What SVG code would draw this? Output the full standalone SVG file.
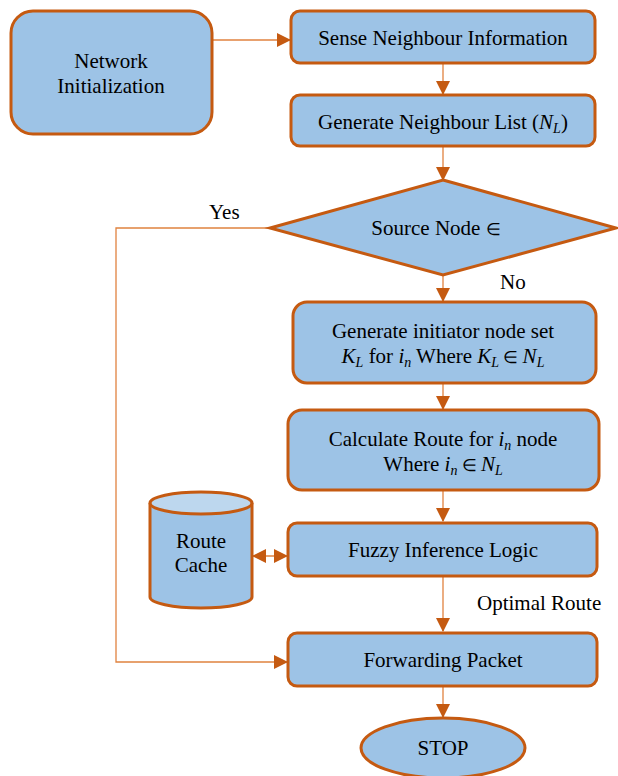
<svg xmlns="http://www.w3.org/2000/svg" width="618" height="776" viewBox="0 0 618 776">
<style>
.n{fill:#9DC3E6;stroke:#C55A11;stroke-width:3}
text{font-family:'Liberation Serif','Times New Roman',serif;font-size:21px;fill:#000}
.t{text-anchor:middle}
.c{fill:none;stroke:#E0823F;stroke-width:1.3}
.i{font-style:italic}
.s{font-style:italic;font-size:14px}
.e{font-size:17px}
</style>
<defs>
<marker id="ah" markerWidth="14" markerHeight="14" refX="13" refY="7" orient="auto" markerUnits="userSpaceOnUse">
<path d="M0,0 L14,7 L0,14 Z" fill="#C55A11"/>
</marker>
<marker id="as" markerWidth="14" markerHeight="14" refX="1" refY="7" orient="auto" markerUnits="userSpaceOnUse">
<path d="M14,0 L0,7 L14,14 Z" fill="#C55A11"/>
</marker>
</defs>
<g id="connectors">
<path class="c" d="M212,40 H290" marker-end="url(#ah)"/>
<path class="c" d="M443,63 V94" marker-end="url(#ah)"/>
<path class="c" d="M443,146 V180" marker-end="url(#ah)"/>
<path class="c" d="M270,228 H116 V662 H287" marker-end="url(#ah)"/>
<path class="c" d="M443,275 V301" marker-end="url(#ah)"/>
<path class="c" d="M443,383 V409" marker-end="url(#ah)"/>
<path class="c" d="M443,490 V521" marker-end="url(#ah)"/>
<path class="c" d="M253,556 H287" marker-start="url(#as)" marker-end="url(#ah)"/>
<path class="c" d="M443,576 V631" marker-end="url(#ah)"/>
<path class="c" d="M443,686 V717" marker-end="url(#ah)"/>
<text x="209" y="219">Yes</text>
<text x="500" y="289">No</text>
<text x="477" y="610">Optimal Route</text>
</g>
<g id="network-init">
<rect class="n" x="11" y="11" width="201" height="123" rx="22"/>
<text class="t" x="111" y="68">Network</text>
<text class="t" x="111" y="93">Initialization</text>
</g>
<g id="sense">
<rect class="n" x="291" y="11" width="304" height="52" rx="9"/>
<text class="t" x="443" y="45">Sense Neighbour Information</text>
</g>
<g id="gen-list">
<rect class="n" x="291" y="95" width="304" height="51" rx="9"/>
<text class="t" x="443" y="129">Generate Neighbour List (<tspan class="i">N</tspan><tspan class="s" dy="4">L</tspan><tspan dy="-4">)</tspan></text>
</g>
<g id="decision">
<polygon class="n" points="443,180 616,228 443,275 270,228"/>
<text class="t" x="436" y="235">Source Node <tspan class="e">∈</tspan></text>
</g>
<g id="initiator">
<rect class="n" x="293" y="302" width="303" height="81" rx="14"/>
<text class="t" x="443" y="338">Generate initiator node set</text>
<text class="t" x="443" y="363"><tspan class="i">K</tspan><tspan class="s" dy="4">L</tspan><tspan dy="-4"> for </tspan><tspan class="i">i</tspan><tspan class="s" dy="4">n</tspan><tspan dy="-4"> Where </tspan><tspan class="i">K</tspan><tspan class="s" dy="4">L</tspan><tspan dy="-4" class="e"> ∈  </tspan><tspan class="i">N</tspan><tspan class="s" dy="4">L</tspan></text>
</g>
<g id="calc-route">
<rect class="n" x="288" y="410" width="311" height="80" rx="14"/>
<text class="t" x="443" y="446">Calculate Route for <tspan class="i">i</tspan><tspan class="s" dy="4">n</tspan><tspan dy="-4"> node</tspan></text>
<text class="t" x="443" y="471">Where <tspan class="i">i</tspan><tspan class="s" dy="4">n</tspan><tspan dy="-4" class="e"> ∈  </tspan><tspan class="i">N</tspan><tspan class="s" dy="4">L</tspan></text>
</g>
<g id="fuzzy">
<rect class="n" x="288" y="523" width="309" height="53" rx="9"/>
<text class="t" x="443" y="557">Fuzzy Inference Logic</text>
</g>
<g id="route-cache">
<path class="n" d="M150,503 V597 A51,11 0 0 0 252,597 V503"/>
<ellipse cx="201" cy="503" rx="51" ry="11" fill="#BDD7EE" stroke="#C55A11" stroke-width="3"/>
<text class="t" x="201" y="548">Route</text>
<text class="t" x="201" y="572">Cache</text>
</g>
<g id="forward">
<rect class="n" x="288" y="633" width="309" height="53" rx="9"/>
<text class="t" x="443" y="667">Forwarding Packet</text>
</g>
<g id="stop">
<ellipse class="n" cx="443" cy="748" rx="82" ry="30"/>
<text class="t" x="443" y="755">STOP</text>
</g>
</svg>
